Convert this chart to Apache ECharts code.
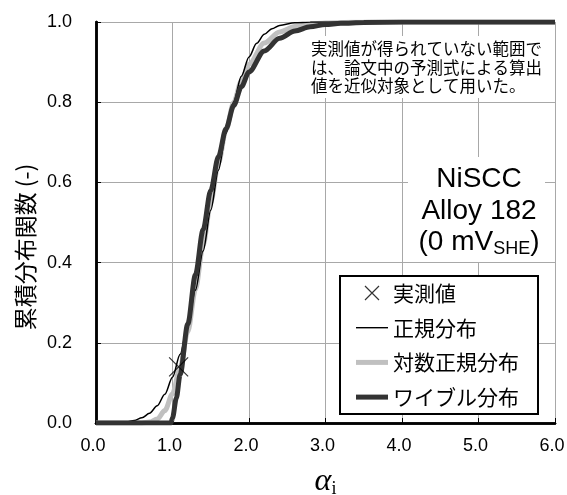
<!DOCTYPE html>
<html>
<head>
<meta charset="utf-8">
<script src="https://cdn.jsdelivr.net/npm/echarts@6/dist/echarts.min.js"></script>
<style>
  html, body { margin: 0; padding: 0; background: #fff; }
  #chart { width: 567px; height: 495px; }
</style>
</head>
<body>
<div id="chart"></div>
<script>
// Cumulative distribution of alpha_i (NiSCC, Alloy 182, 0 mV_SHE)

// measured point
const measuredX = [1.08];
const measuredY = [0.14];

// normal distribution fit
const normalX = [0, 0.3, 0.4, 0.5, 0.6, 0.7, 0.8, 0.9, 1.0, 1.1, 1.2, 1.3, 1.4, 1.5, 1.6, 1.7, 1.8, 1.9, 2.0, 2.1, 2.2, 2.3, 2.4, 2.6, 2.8, 3.0, 6.0];
const normalY = [0, 0.0014, 0.0030, 0.0064, 0.0128, 0.0242, 0.0429, 0.0719, 0.1141, 0.1713, 0.2444, 0.3314, 0.4289, 0.5307, 0.6305, 0.7224, 0.8013, 0.8649, 0.9129, 0.9468, 0.9694, 0.9833, 0.9915, 0.9981, 0.9997, 1.0, 1.0];

// log-normal distribution fit
const lognormX = [0, 0.6, 0.7, 0.8, 0.9, 1.0, 1.1, 1.2, 1.3, 1.4, 1.5, 1.6, 1.7, 1.8, 1.9, 2.0, 2.2, 2.4, 2.6, 2.8, 3.0, 3.5, 4.0, 6.0];
const lognormY = [0, 0.0003, 0.0022, 0.0099, 0.0309, 0.0726, 0.139, 0.228, 0.333, 0.443, 0.5505, 0.6477, 0.731, 0.799, 0.853, 0.8944, 0.9477, 0.9752, 0.9885, 0.9948, 0.9977, 0.9997, 1.0, 1.0];

// Weibull distribution fit
const weibullX = [0, 0.98, 1.0, 1.05, 1.1, 1.2, 1.3, 1.4, 1.5, 1.6, 1.7, 1.8, 1.9, 2.0, 2.2, 2.4, 2.6, 2.8, 3.0, 3.2, 3.5, 4.0, 4.5, 6.0];
const weibullY = [0, 0, 0.0125, 0.062, 0.121, 0.247, 0.3697, 0.4817, 0.580, 0.664, 0.734, 0.7916, 0.8383, 0.8755, 0.9279, 0.9594, 0.9777, 0.9880, 0.9937, 0.9967, 0.9988, 0.9998, 1.0, 1.0];

// axis settings
const xMin = 0, xMax = 6, xStep = 1;
const yMin = 0, yMax = 1, yStep = 0.2;

const seriesNames = ['実測値', '正規分布', '対数正規分布', 'ワイブル分布'];
const noteLines = ['実測値が得られていない範囲で', 'は、論文中の予測式による算出', '値を近似対象として用いた。'];
const yAxisTitle = '累積分布関数 (-)';

const zip = (xs, ys) => xs.map((x, i) => [x, ys[i]]);

const crossPath = 'path://M0,0L20,20M20,0L0,20';
// legend line swatches (32 units long, various thicknesses)
const thinBar = 'path://M0,0H32V1.4H0Z';
const thickBar = 'path://M0,0H32V5H0Z';
const CJK = '"Noto Sans CJK JP", "Noto Sans CJK SC", sans-serif';
const LAT = '"Liberation Sans", Arial, sans-serif';
const SERIF = '"Liberation Serif", "DejaVu Serif", serif';

const chart = echarts.init(document.getElementById('chart'), null, { renderer: 'canvas' });

const frameLine = { show: true, lineStyle: { color: '#000', width: 2.5 } };

chart.setOption({
  animation: false,
  backgroundColor: '#fff',
  grid: { left: 96, top: 22, right: 12, bottom: 72, containLabel: false, outerBoundsMode: 'none' },
  xAxis: [{
    type: 'value', min: xMin, max: xMax, interval: xStep,
    axisLine: frameLine,
    axisTick: { show: true, inside: true, length: 5, lineStyle: { color: '#000', width: 1 } },
    axisLabel: { margin: 14, color: '#000', fontSize: 18, fontFamily: LAT, padding: [0, 6, 0, 0], formatter: v => v.toFixed(1) },
    splitLine: { show: true, lineStyle: { color: '#a8a8a8', width: 1 } },
    name: '{a|α}{i|i}',
    nameLocation: 'middle',
    nameGap: 43,
    nameTextStyle: {
      rich: {
        a: { fontFamily: SERIF, fontStyle: 'italic', fontSize: 32, color: '#000', lineHeight: 32 },
        i: { fontFamily: SERIF, fontSize: 18, color: '#000', verticalAlign: 'bottom', lineHeight: 22 }
      }
    }
  }, {
    type: 'value', min: xMin, max: xMax, interval: xStep, position: 'top',
    axisLine: frameLine, axisTick: { show: false }, axisLabel: { show: false }, splitLine: { show: false }
  }],
  yAxis: [{
    type: 'value', min: yMin, max: yMax, interval: yStep,
    axisLine: frameLine,
    axisTick: { show: true, inside: true, length: 5, lineStyle: { color: '#000', width: 1 } },
    axisLabel: { margin: 24, color: '#000', fontSize: 18, fontFamily: LAT, formatter: v => v.toFixed(1) },
    splitLine: { show: true, lineStyle: { color: '#a8a8a8', width: 1 } }
  }, {
    type: 'value', min: yMin, max: yMax, interval: yStep, position: 'right',
    axisLine: frameLine, axisTick: { show: false }, axisLabel: { show: false }, splitLine: { show: false }
  }],
  legend: {
    orient: 'vertical',
    left: 340, top: 276,
    padding: [5, 19, 5, 16],
    borderColor: '#000', borderWidth: 2, backgroundColor: '#fff',
    itemWidth: 32, itemHeight: 14, itemGap: 10.7,
    textStyle: { fontFamily: CJK, fontSize: 21, color: '#000', lineHeight: 24 },
    z: 10,
    data: [
      { name: seriesNames[0], icon: crossPath, itemStyle: { color: 'transparent', borderColor: '#000', borderWidth: 1.2 } },
      { name: seriesNames[1], icon: thinBar, itemStyle: { color: '#000', borderWidth: 0 } },
      { name: seriesNames[2], icon: thickBar, itemStyle: { color: '#c0c0c0', borderWidth: 0 } },
      { name: seriesNames[3], icon: thickBar, itemStyle: { color: '#333333', borderWidth: 0 } }
    ]
  },
  graphic: [
    { type: 'rect', left: 302, top: 36, shape: { width: 251, height: 62 }, style: { fill: '#fff' }, z: 1 },
    {
      type: 'text', left: 311, top: 40, z: 1,
      style: { text: noteLines.join('\n'), fontFamily: CJK, fontSize: 16.5, lineHeight: 18.3, fill: '#000' }
    },
    { type: 'rect', left: 408, top: 157, shape: { width: 137, height: 105 }, style: { fill: '#fff' }, z: 1 },
    {
      type: 'text', x: 479, y: 164, z: 1,
      style: {
        text: 'NiSCC\nAlloy 182\n(0 mV{s|SHE})',
        fontFamily: LAT, fontSize: 28, lineHeight: 31.5, fill: '#000', align: 'center',
        rich: { s: { fontFamily: LAT, fontSize: 18, lineHeight: 14, verticalAlign: 'bottom', fill: '#000' } }
      }
    },
    {
      type: 'text', x: 25, y: 247, rotation: Math.PI / 2, z: 1,
      style: { text: yAxisTitle, fontFamily: CJK, fontSize: 23, fill: '#000', align: 'center', verticalAlign: 'middle' }
    }
  ],
  series: [
    {
      name: seriesNames[2], type: 'line', data: zip(lognormX, lognormY),
      symbol: 'none', smooth: 0.3, smoothMonotone: 'x',
      lineStyle: { color: '#c0c0c0', width: 5 }, itemStyle: { color: '#c0c0c0' }, z: 2
    },
    {
      name: seriesNames[1], type: 'line', data: zip(normalX, normalY),
      symbol: 'none', smooth: 0.3, smoothMonotone: 'x',
      lineStyle: { color: '#000', width: 1.5 }, itemStyle: { color: '#000' }, z: 3
    },
    {
      name: seriesNames[3], type: 'line', data: zip(weibullX, weibullY),
      symbol: 'none', smooth: 0.3, smoothMonotone: 'x',
      lineStyle: { color: '#333333', width: 5 }, itemStyle: { color: '#333333' }, z: 4
    },
    {
      name: seriesNames[0], type: 'scatter', data: zip(measuredX, measuredY),
      symbol: crossPath, symbolSize: 19,
      itemStyle: { color: 'transparent', borderColor: '#000', borderWidth: 1.2 }, z: 5
    }
  ]
});
</script>
</body>
</html>
